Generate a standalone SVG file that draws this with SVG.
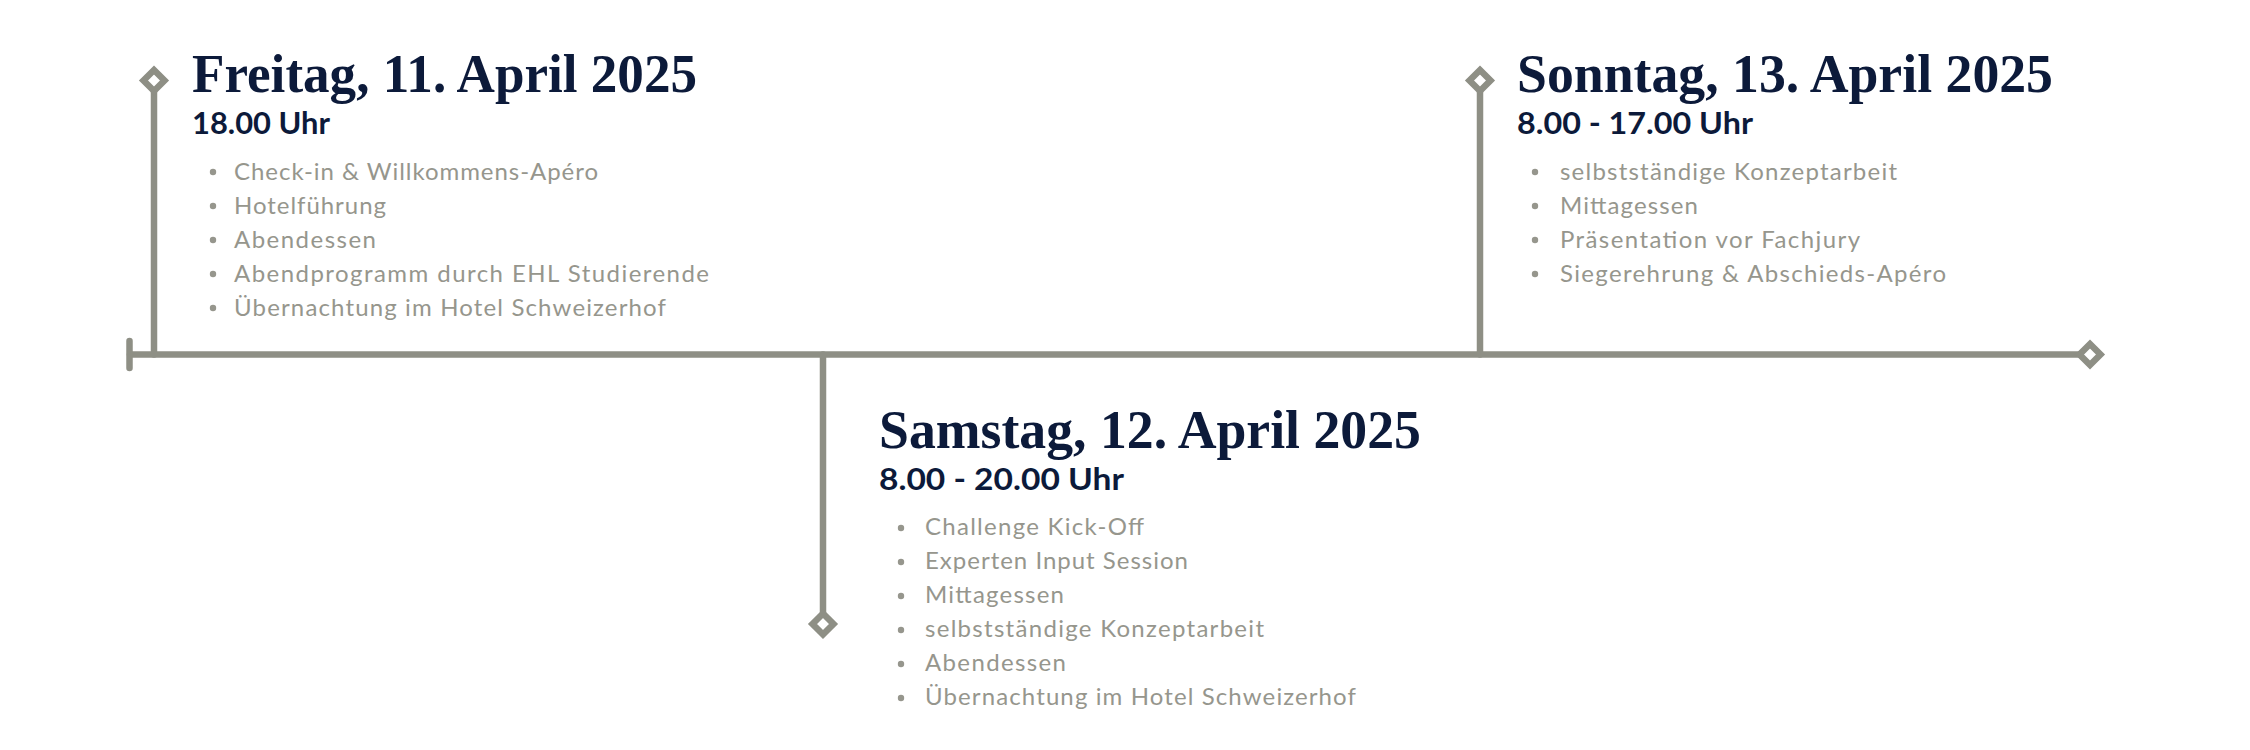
<svg xmlns="http://www.w3.org/2000/svg" width="2250" height="750" viewBox="0 0 2250 750">
<defs>
<style>
.ln{stroke:#8e8f85;stroke-width:6.5;fill:none;stroke-linecap:round}
.dm{stroke:#8e8f85;stroke-width:6.5;fill:#ffffff;stroke-linejoin:miter}
.ttl{font-family:"Liberation Serif","DejaVu Serif",serif;font-weight:700;font-size:54px;fill:#0c1a3a}
.tm{font-family:Lato,"Liberation Sans",sans-serif;font-weight:700;font-size:30px;fill:#0c1a3a}
.it{font-family:Lato,"Liberation Sans",sans-serif;font-weight:400;font-size:24px;fill:#96968d}
.bl{fill:#96968d}
</style>
<path id="dia" d="M0,-10.5 L10.5,0 L0,10.5 L-10.5,0 Z"/>
</defs>
<rect width="2250" height="750" fill="#ffffff"/>
<g id="connectors">
<line class="ln" x1="130" y1="354.5" x2="2082" y2="354.5"/>
<line class="ln" x1="129.5" y1="341" x2="129.5" y2="368"/>
<line class="ln" x1="154" y1="92" x2="154" y2="354.5"/>
<line class="ln" x1="823" y1="354.5" x2="823" y2="612"/>
<line class="ln" x1="1480" y1="92" x2="1480" y2="354.5"/>
<use href="#dia" class="dm" x="154" y="80.5"/>
<use href="#dia" class="dm" x="823" y="624"/>
<use href="#dia" class="dm" x="1480" y="80.5"/>
<use href="#dia" class="dm" x="2090" y="354.5"/>
</g>
<g id="freitag">
<text class="ttl" x="192" y="92" textLength="505" lengthAdjust="spacingAndGlyphs">Freitag, 11. April 2025</text>
<text class="tm" x="192" y="134" textLength="138" lengthAdjust="spacingAndGlyphs">18.00 Uhr</text>
<g class="bl"><circle cx="213" cy="172" r="3.2"/><circle cx="213" cy="206" r="3.2"/><circle cx="213" cy="240" r="3.2"/><circle cx="213" cy="274" r="3.2"/><circle cx="213" cy="308" r="3.2"/></g>
<text class="it" x="234" y="180" textLength="364">Check-in &amp; Willkommens-Apéro</text>
<text class="it" x="234" y="214" textLength="152">Hotelführung</text>
<text class="it" x="234" y="248" textLength="142">Abendessen</text>
<text class="it" x="234" y="282" textLength="475">Abendprogramm durch EHL Studierende</text>
<text class="it" x="234" y="316" textLength="432">Übernachtung im Hotel Schweizerhof</text>
</g>
<g id="samstag">
<text class="ttl" x="879" y="448" textLength="542" lengthAdjust="spacingAndGlyphs">Samstag, 12. April 2025</text>
<text class="tm" x="879" y="490" textLength="245" lengthAdjust="spacingAndGlyphs">8.00 - 20.00 Uhr</text>
<g class="bl"><circle cx="901" cy="528" r="3.2"/><circle cx="901" cy="562" r="3.2"/><circle cx="901" cy="596" r="3.2"/><circle cx="901" cy="630" r="3.2"/><circle cx="901" cy="664" r="3.2"/><circle cx="901" cy="698" r="3.2"/></g>
<text class="it" x="925" y="535" textLength="219">Challenge Kick-Off</text>
<text class="it" x="925" y="569" textLength="263">Experten Input Session</text>
<text class="it" x="925" y="603" textLength="139">Mittagessen</text>
<text class="it" x="925" y="637" textLength="339">selbstständige Konzeptarbeit</text>
<text class="it" x="925" y="671" textLength="141">Abendessen</text>
<text class="it" x="925" y="705" textLength="431">Übernachtung im Hotel Schweizerhof</text>
</g>
<g id="sonntag">
<text class="ttl" x="1517" y="92" textLength="536" lengthAdjust="spacingAndGlyphs">Sonntag, 13. April 2025</text>
<text class="tm" x="1517" y="134" textLength="236" lengthAdjust="spacingAndGlyphs">8.00 - 17.00 Uhr</text>
<g class="bl"><circle cx="1535" cy="172" r="3.2"/><circle cx="1535" cy="206" r="3.2"/><circle cx="1535" cy="240" r="3.2"/><circle cx="1535" cy="274" r="3.2"/></g>
<text class="it" x="1560" y="180" textLength="337">selbstständige Konzeptarbeit</text>
<text class="it" x="1560" y="214" textLength="138">Mittagessen</text>
<text class="it" x="1560" y="248" textLength="300">Präsentation vor Fachjury</text>
<text class="it" x="1560" y="282" textLength="386">Siegerehrung &amp; Abschieds-Apéro</text>
</g>
</svg>
